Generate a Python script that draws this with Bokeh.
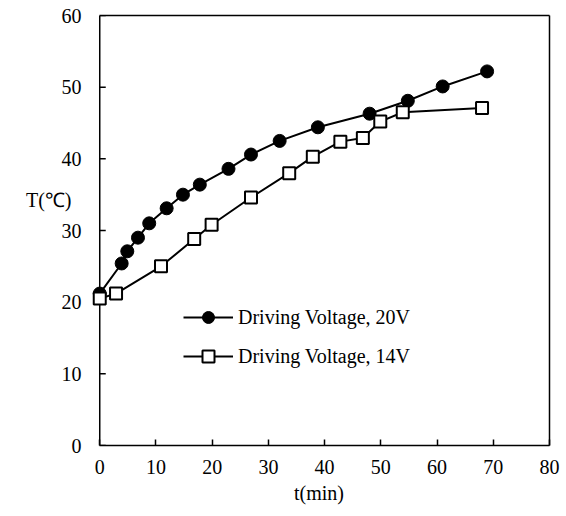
from bokeh.plotting import figure
from bokeh.models import Range1d, FixedTicker, Legend, LegendItem, LinearAxis
from bokeh.embed import file_html
from bokeh.resources import INLINE

# ---- data ----
t20 = [0, 3.9, 4.9, 6.8, 8.8, 11.9, 14.8, 17.8, 22.9, 26.9, 32.0, 38.8, 48.0, 54.8, 61.0, 68.9]
T20 = [21.2, 25.4, 27.1, 29.0, 31.0, 33.1, 35.0, 36.4, 38.6, 40.6, 42.5, 44.4, 46.3, 48.1, 50.1, 52.2]

t14 = [0, 2.9, 10.9, 16.8, 19.9, 26.9, 33.7, 37.9, 42.8, 46.8, 49.9, 53.9, 68.0]
T14 = [20.5, 21.2, 25.0, 28.8, 30.8, 34.6, 38.0, 40.3, 42.4, 42.9, 45.2, 46.5, 47.1]

x_ticks = [0, 10, 20, 30, 40, 50, 60, 70, 80]
y_ticks = [0, 10, 20, 30, 40, 50, 60]
x_label = "t(min)"
y_label = "T(℃)"
y_label_pos = 34.2
legend_labels = ["Driving Voltage, 20V", "Driving Voltage, 14V"]

FONT = "Liberation Serif"
FS = "20px"

x0, x1 = x_ticks[0], x_ticks[-1]
y0, y1 = y_ticks[0], y_ticks[-1]

p = figure(width=566, height=516, output_backend="svg", toolbar_location=None,
           x_range=Range1d(x0 - 2, x1), y_range=Range1d(y0, y1),
           min_border_left=88, min_border_right=17, min_border_top=15, min_border_bottom=71)
p.grid.visible = False
p.outline_line_color = None
p.background_fill_color = "white"
p.border_fill_color = "white"

# bottom axis
xa = p.xaxis[0]
xa.ticker = FixedTicker(ticks=x_ticks)
xa.bounds = (x0, x1)
xa.axis_line_color = "black"
xa.axis_line_width = 1.5
xa.major_tick_out = 0
xa.major_tick_in = 6
xa.major_tick_line_color = "black"
xa.major_tick_line_width = 1.5
xa.minor_tick_line_color = None
xa.major_label_standoff = 14
xa.major_label_text_font = FONT
xa.major_label_text_font_size = FS
xa.major_label_text_color = "black"
xa.axis_label = x_label
xa.axis_label_text_font = FONT
xa.axis_label_text_font_size = FS
xa.axis_label_text_font_style = "normal"
xa.axis_label_text_color = "black"
xa.axis_label_standoff = 5

# left axis: labels only (its line and ticks are drawn at x = 0 below);
# the horizontal axis title sits among its labels
ya = p.yaxis[0]
ya.ticker = FixedTicker(ticks=y_ticks + [y_label_pos])
ya.major_label_overrides = {y_label_pos: y_label + "\u00a0\u00a0"}
ya.axis_line_color = None
ya.major_tick_line_color = None
ya.major_tick_out = 0
ya.major_tick_in = 0
ya.minor_tick_line_color = None
ya.major_label_standoff = 7
ya.major_label_text_font = FONT
ya.major_label_text_font_size = FS
ya.major_label_text_color = "black"

# top and right frame lines
top = LinearAxis(ticker=FixedTicker(ticks=[]), bounds=(x0, x1), axis_line_color="black",
                 axis_line_width=1.5, major_tick_line_color=None, minor_tick_line_color=None)
p.add_layout(top, "above")
right = LinearAxis(ticker=FixedTicker(ticks=[]), bounds=(y0, y1), axis_line_color="black",
                   axis_line_width=1.5, major_tick_line_color=None, minor_tick_line_color=None)
p.add_layout(right, "right")

# y axis line at x = 0 and its inward ticks
p.segment(x0=[x0], y0=[y0], x1=[x0], y1=[y1], line_color="black", line_width=1.5)
p.ray(x=[x0] * len(y_ticks), y=y_ticks, length=6, length_units="screen", angle=0,
      line_color="black", line_width=1.5)

# series
l20 = p.line(t20, T20, line_color="black", line_width=2)
s20 = p.scatter(t20, T20, marker="circle", size=13, fill_color="black", line_color="black")
l14 = p.line(t14, T14, line_color="black", line_width=2)
s14 = p.scatter(t14, T14, marker="square", size=12, fill_color="white", line_color="black", line_width=2)

legend = Legend(items=[LegendItem(label=legend_labels[0], renderers=[l20, s20]),
                       LegendItem(label=legend_labels[1], renderers=[l14, s14])],
                location=(95, 74), glyph_width=50, glyph_height=30, spacing=9,
                label_standoff=5, padding=0, margin=0, border_line_color=None,
                background_fill_alpha=0, label_text_font=FONT, label_text_font_size=FS,
                label_text_color="black")
p.add_layout(legend)

open("out.html", "w").write(file_html(p, INLINE))
